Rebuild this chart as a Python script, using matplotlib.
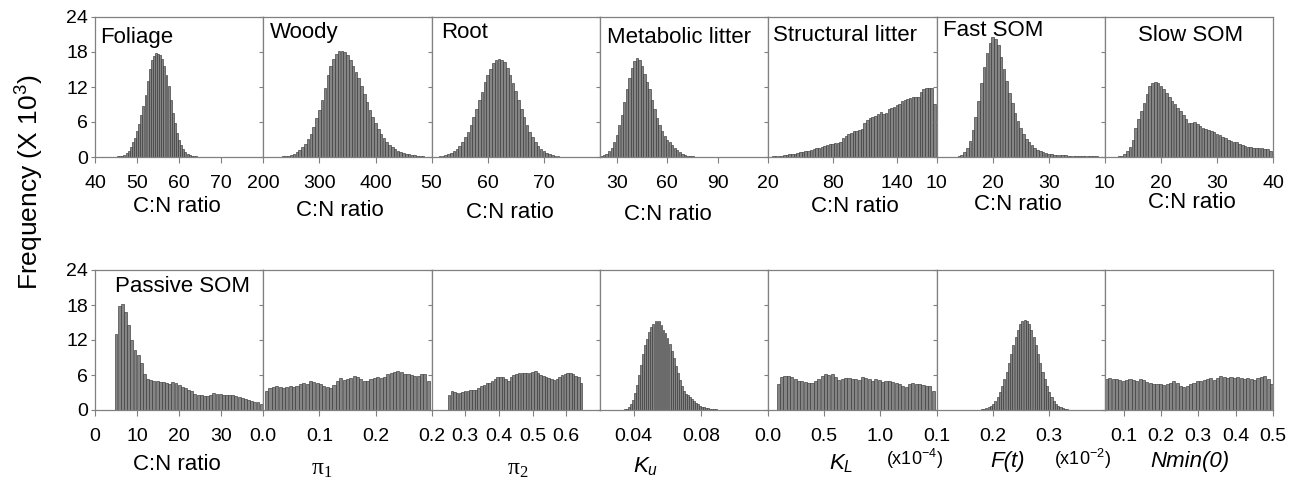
import matplotlib
matplotlib.use("Agg")
import matplotlib.pyplot as plt
import numpy as np

plt.rcParams['font.family'] = 'Liberation Sans'
plt.rcParams['mathtext.fontset'] = 'custom'
plt.rcParams['mathtext.rm'] = 'Liberation Serif'
plt.rcParams['mathtext.it'] = 'Liberation Sans:italic'
plt.rcParams['mathtext.sf'] = 'Liberation Sans'

# ---- histogram heights (x 10^3) ----
# each panel: first bin centre, bin width, heights
foliage_start, foliage_bin = 45.0, 0.5
foliage = [0.05, 0.1, 0.15, 0.25, 0.4, 0.7, 1.1, 1.7, 2.5, 3.3, 4.4, 5.6, 7.2, 8.8, 10.6,
           13.0, 15.0, 16.6, 17.3, 17.8, 17.6, 17.4, 16.8, 15.6, 14.0, 12.2, 9.8, 7.6, 5.8,
           4.2, 3.0, 2.1, 1.4, 0.9, 0.6, 0.4, 0.25, 0.15, 0.1, 0.05]

woody_start, woody_bin = 235, 5
woody = [0.1, 0.15, 0.25, 0.4, 0.6, 0.9, 1.2, 1.7, 2.3, 3.1, 4.0, 5.2, 6.6, 8.0, 9.8, 11.8,
         14.0, 15.6, 16.8, 17.6, 18.2, 18.2, 18.0, 17.4, 16.6, 15.6, 14.6, 13.5, 12.2, 10.8,
         9.4, 8.0, 6.8, 5.8, 4.8, 4.0, 3.2, 2.6, 2.1, 1.7, 1.4, 1.1, 0.9, 0.7, 0.55, 0.45,
         0.35, 0.28, 0.22, 0.16, 0.12, 0.08, 0.05]

root_start, root_bin = 51.5, 0.5
root = [0.1, 0.19, 0.3, 0.45, 0.66, 0.96, 1.36, 1.9, 2.55, 3.4, 4.35, 5.5, 6.8, 8.2, 9.7,
        11.2, 12.9, 14.0, 15.0, 16.1, 16.6, 16.8, 16.7, 16.3, 15.2, 14.0, 12.6, 11.3, 9.7,
        8.2, 6.9, 5.5, 4.35, 3.4, 2.55, 1.9, 1.36, 0.96, 0.66, 0.45, 0.3, 0.19, 0.12,
        0.08, 0.05]

metabolic_start, metabolic_bin = 21.0, 1.5
metabolic = [0.2, 0.35, 0.6, 1.0, 1.6, 2.6, 3.8, 5.4, 7.2, 9.4, 11.6, 13.6, 15.3, 16.5,
             17.0, 16.6, 15.6, 14.2, 12.8, 11.6, 9.8, 8.2, 6.6, 5.4, 4.4, 3.6, 3.0, 2.6,
             2.1, 1.6, 1.2, 0.85, 0.6, 0.4, 0.25, 0.15, 0.1, 0.05]

structural_start, structural_bin = 25.0, 2.5
structural = [0.1, 0.15, 0.2, 0.25, 0.32, 0.4, 0.45, 0.5, 0.6, 0.72, 0.8, 0.9, 1.0, 1.1,
              1.25, 1.4, 1.5, 1.6, 1.8, 1.95, 2.1, 2.2, 2.3, 2.4, 2.45, 2.5, 3.2, 3.6, 3.9,
              4.1, 4.4, 4.5, 4.6, 4.8, 5.8, 6.4, 6.6, 6.8, 7.0, 7.4, 7.7, 7.4, 7.6, 8.2,
              8.4, 8.6, 8.9, 9.1, 9.6, 9.8, 9.9, 10.1, 10.2, 10.2, 10.3, 11.2, 11.6, 11.8,
              11.9, 11.8, 9.1]

fast_start, fast_bin = 14.0, 0.5
fast = [0.1, 0.3, 0.8, 1.6, 2.8, 4.6, 6.8, 9.6, 12.6, 15.4, 17.8, 19.6, 20.6, 20.3, 19.2,
        17.2, 15.0, 13.0, 11.0, 9.3, 7.6, 6.1, 5.0, 3.9, 3.1, 2.5, 2.0, 1.6, 1.25, 1.0,
        0.8, 0.65, 0.55, 0.45, 0.4, 0.35, 0.32, 0.3, 0.28, 0.25, 0.23, 0.22, 0.2, 0.2,
        0.18, 0.16, 0.15, 0.13, 0.12, 0.1, 0.08]

slow_start, slow_bin = 12.5, 0.5
slow = [0.1, 0.2, 0.5, 1.0, 1.8, 3.0, 5.0, 6.5, 7.8, 9.3, 10.8, 12.2, 12.6, 12.8, 12.6,
        12.1, 11.6, 10.9, 10.3, 9.6, 9.0, 8.4, 7.8, 7.2, 6.5, 5.9, 5.8, 6.0, 5.7, 5.3, 5.0,
        4.8, 4.6, 4.5, 4.3, 4.0, 3.7, 3.5, 3.3, 3.0, 2.8, 2.6, 2.5, 2.3, 2.1, 1.9, 1.8,
        1.7, 1.55, 1.5, 1.5, 1.55, 1.45, 1.4, 1.1]

passive_start, passive_bin = 5.0, 0.75
passive = [13.0, 17.8, 18.2, 16.8, 14.6, 12.0, 10.3, 9.5, 8.0, 6.2, 5.4, 5.1, 5.0, 4.9,
           4.8, 4.8, 4.6, 4.5, 4.8, 4.7, 4.3, 3.9, 3.7, 3.5, 3.2, 2.8, 2.6, 2.5, 2.4, 2.4,
           2.6, 2.9, 2.8, 2.7, 2.6, 2.5, 2.5, 2.5, 2.4, 2.3, 2.0, 1.9, 1.8, 1.6, 1.4, 1.3,
           1.1]

pi1_start, pi1_bin = 0.006, 0.006
pi1 = [3.2, 3.8, 4.0, 4.1, 3.9, 3.8, 3.9, 4.1, 4.0, 4.2, 4.4, 4.6, 4.5, 4.9, 4.8, 4.6,
       4.4, 4.2, 3.9, 3.7, 4.3, 5.0, 5.5, 5.2, 5.3, 5.5, 5.8, 5.6, 5.4, 5.0, 5.0, 5.3, 5.5,
       5.6, 5.5, 5.7, 6.1, 6.4, 6.6, 6.7, 6.5, 6.2, 6.1, 6.0, 5.8, 5.9, 6.2, 6.1, 5.0]

pi2_start, pi2_bin = 0.252, 0.008
pi2 = [2.6, 3.3, 3.1, 2.9, 3.0, 3.1, 3.2, 3.3, 3.5, 3.5, 3.5, 3.7, 4.1, 4.3, 4.6, 4.7,
       4.9, 5.3, 5.6, 5.7, 5.7, 5.4, 5.0, 5.6, 6.0, 6.2, 6.4, 6.4, 6.3, 6.3, 6.4, 6.5,
       6.7, 6.4, 6.0, 5.9, 5.7, 5.5, 5.4, 5.1, 5.3, 5.7, 6.0, 6.2, 6.3, 6.3, 6.1, 5.8,
       5.6, 4.6]

ku_start, ku_bin = 0.035, 0.0012
ku = [0.1, 0.2, 0.5, 1.0, 1.8, 2.9, 4.3, 6.0, 7.8, 9.6, 11.2, 12.2, 13.3, 14.2, 14.8,
      15.2, 15.3, 15.2, 14.6, 13.8, 13.2, 12.4, 11.4, 10.2, 8.9, 7.6, 6.3, 5.1, 4.1, 3.3,
      2.7, 2.5, 2.2, 1.9, 1.5, 1.2, 0.95, 0.75, 0.6, 0.45, 0.35, 0.28, 0.22, 0.17, 0.13,
      0.1, 0.08, 0.05]

kl_start, kl_bin = 0.09, 0.03
kl = [4.5, 5.6, 5.8, 5.8, 5.6, 5.3, 5.0, 4.9, 4.8, 4.6, 4.6, 4.9, 5.4, 5.9, 6.1, 6.0,
      6.2, 5.6, 5.2, 5.3, 5.5, 5.5, 5.4, 5.3, 5.2, 5.6, 5.5, 5.4, 5.0, 5.3, 5.2, 4.8, 5.0,
      4.9, 4.8, 4.7, 4.5, 4.2, 3.9, 4.4, 4.6, 4.5, 4.4, 4.3, 4.2, 4.1, 3.2]

ft_start, ft_bin = 0.177, 0.004
ft = [0.08, 0.13, 0.21, 0.33, 0.51, 0.77, 1.1, 1.6, 2.3, 3.1, 4.1, 5.3, 6.6, 8.1, 9.6,
      11.1, 12.5, 13.7, 14.7, 15.3, 15.5, 15.3, 14.7, 13.7, 12.5, 11.1, 9.6, 8.1, 6.6,
      5.3, 4.1, 3.1, 2.3, 1.6, 1.1, 0.77, 0.51, 0.33, 0.21, 0.13, 0.08]

nmin_start, nmin_bin = 0.0545, 0.009
nmin = [5.4, 5.5, 5.4, 5.3, 5.2, 5.0, 5.2, 5.3, 5.1, 5.0, 5.4, 5.2, 4.8, 4.6, 4.5, 4.5,
        4.4, 4.3, 4.5, 4.7, 5.0, 4.6, 4.2, 3.9, 4.1, 4.4, 4.7, 4.9, 5.0, 5.1, 5.3, 5.5,
        5.2, 5.5, 5.8, 5.6, 5.5, 5.6, 5.5, 5.6, 5.5, 5.3, 5.5, 5.4, 5.2, 5.5, 5.6, 5.8,
        5.3, 4.4]

# x axis ranges and labelled ticks
top_xlims = [(40, 80), (200, 500), (50, 80), (20, 120), (20, 177), (10, 40), (10, 40)]
top_ticks = [[40, 50, 60, 70], [200, 300, 400], [50, 60, 70], [30, 60, 90],
             [20, 80, 140], [10, 20, 30], [10, 20, 30, 40]]
top_ticklabels = [['40', '50', '60', '70'], ['200', '300', '400'], ['50', '60', '70'],
                  ['30', '60', '90'], ['20', '80', '140'], ['10', '20', '30'],
                  ['10', '20', '30', '40']]
bot_xlims = [(0, 40), (0, 0.3), (0.2, 0.7), (0.02, 0.12), (0, 1.5), (0.1, 0.4), (0.05, 0.5)]
bot_ticks = [[0, 10, 20, 30], [0, 0.1, 0.2], [0.2, 0.3, 0.4, 0.5, 0.6], [0.04, 0.08],
             [0, 0.5, 1.0], [0.1, 0.2, 0.3], [0.1, 0.2, 0.3, 0.4, 0.5]]
bot_ticklabels = [['0', '10', '20', '30'], ['0.0', '0.1', '0.2'],
                  ['0.2', '0.3', '0.4', '0.5', '0.6'], ['0.04', '0.08'],
                  ['0.0', '0.5', '1.0'], ['0.1', '0.2', '0.3'],
                  ['0.1', '0.2', '0.3', '0.4', '0.5']]

titles_top = ['Foliage', 'Woody', 'Root', 'Metabolic litter', 'Structural litter',
              'Fast SOM', 'Slow SOM']

top_data = [(foliage_start, foliage_bin, foliage), (woody_start, woody_bin, woody),
            (root_start, root_bin, root), (metabolic_start, metabolic_bin, metabolic),
            (structural_start, structural_bin, structural), (fast_start, fast_bin, fast),
            (slow_start, slow_bin, slow)]
bot_data = [(passive_start, passive_bin, passive), (pi1_start, pi1_bin, pi1),
            (pi2_start, pi2_bin, pi2), (ku_start, ku_bin, ku), (kl_start, kl_bin, kl),
            (ft_start, ft_bin, ft), (nmin_start, nmin_bin, nmin)]

W, H = 1297, 482
fig = plt.figure(figsize=(W / 100, H / 100), dpi=100)

frame = '#808080'
left0, pw = 95, 168.3


def make_row(y_top, y_bot, data, xlims, ticks, ticklabels):
    axes = []
    for i, (start, b, h) in enumerate(data):
        ax = fig.add_axes([(left0 + i * pw) / W, 1 - y_bot / H, pw / W, (y_bot - y_top) / H])
        x = start + b * np.arange(len(h))
        ax.bar(x, h, width=b * 0.92, color='#858585', edgecolor='#383838', linewidth=0.45)
        ax.set_xlim(*xlims[i])
        ax.set_ylim(0, 24)
        ax.set_yticks([0, 6, 12, 18, 24])
        ax.set_xticks(ticks[i])
        ax.set_xticklabels(ticklabels[i])
        for s in ax.spines.values():
            s.set_color(frame)
            s.set_linewidth(0.9)
        ax.tick_params(axis='x', direction='out', length=4, width=0.8, color=frame,
                       labelsize=14, pad=9)
        ax.tick_params(axis='y', direction='out', length=3, width=0.8, color=frame,
                       labelsize=14, pad=2)
        if i > 0:
            ax.set_yticklabels([])
        axes.append(ax)
    return axes


top_axes = make_row(17, 157, top_data, top_xlims, top_ticks, top_ticklabels)
bot_axes = make_row(270, 410, bot_data, bot_xlims, bot_ticks, bot_ticklabels)

# panel titles (axes fractions)
title_pos = [(0.03, 0.857, 'left'), (0.04, 0.886, 'left'), (0.054, 0.886, 'left'),
             (0.04, 0.857, 'left'), (0.03, 0.871, 'left'), (0.036, 0.907, 'left'),
             (0.51, 0.871, 'center')]
for ax, t, (tx, ty, ha) in zip(top_axes, titles_top, title_pos):
    ax.text(tx, ty, t, transform=ax.transAxes, fontsize=16, ha=ha, va='center')
bot_axes[0].text(0.12, 0.879, 'Passive SOM', transform=bot_axes[0].transAxes,
                 fontsize=16, ha='left', va='center')


def ftext(x, y, s, **kw):
    fig.text(x / W, 1 - y / H, s, ha='center', va='center', **kw)


# x labels, placed in pixel coords of the original figure
top_label_xy = [(177, 206), (340, 210), (510, 213), (668, 214), (855, 206),
                (1018, 205), (1192, 202)]
for (lx, ly) in top_label_xy:
    ftext(lx, ly, 'C:N ratio', fontsize=16)

ftext(177, 465, 'C:N ratio', fontsize=16)
ftext(322, 469, r'$\mathrm{π}_{1}$', fontsize=17)
ftext(518, 469, r'$\mathrm{π}_{2}$', fontsize=17)
ftext(646, 467, r'$\mathit{K}_{\mathit{u}}$', fontsize=16)
ftext(841, 464, r'$\mathit{K}_{\mathit{L}}$', fontsize=16)
ftext(914, 459, r'(x10$^{\mathsf{-4}}$)', fontsize=13)
ftext(1008, 462, 'F(t)', fontsize=16, style='italic')
ftext(1082, 459, r'(x10$^{\mathsf{-2}}$)', fontsize=13)
ftext(1190, 462, 'Nmin(0)', fontsize=16, style='italic')

ftext(30, 182, r'Frequency (X 10$^{\mathsf{3}}$)', fontsize=19, rotation=90)

fig.savefig('out.png', dpi=100)
